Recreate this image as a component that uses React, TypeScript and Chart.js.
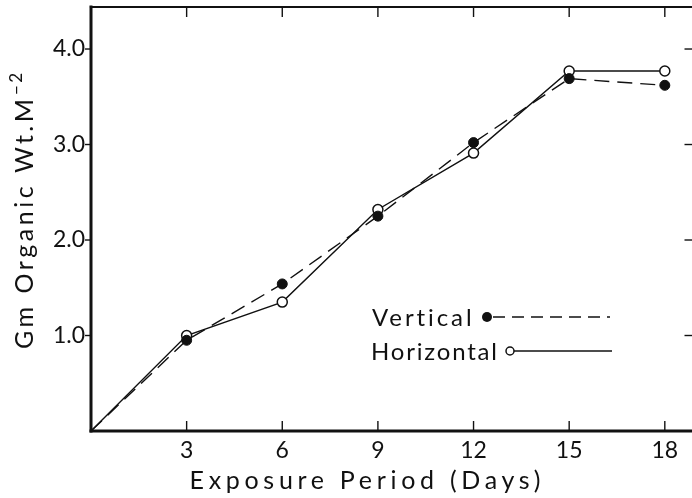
import React, { useEffect, useRef } from "react";
import { Chart, registerables } from "chart.js";

Chart.register(...registerables);

// ---- data ----
const days = [0, 3, 6, 9, 12, 15, 18];
const vertical = [0, 0.95, 1.54, 2.25, 3.02, 3.69, 3.62];
const horizontal = [0, 1.0, 1.35, 2.32, 2.91, 3.77, 3.77];
const xTickValues = [3, 6, 9, 12, 15, 18];
const yTickValues = [1, 2, 3, 4];
const yTickLabels = ["1.0", "2.0", "3.0", "4.0"];
const seriesNames = ["Vertical", "Horizontal"];
const xTitle = "Exposure Period (Days)";
const yTitleMain = "Gm Organic Wt.M";
const yTitleSup = "\u22122";

const FONT = "Lato, 'DejaVu Sans', sans-serif";
const INK = "#111";

function spacedText(ctx: CanvasRenderingContext2D, text: string, x: number, y: number, target: number, align: "left" | "center" | "right") {
  (ctx as any).letterSpacing = "0px";
  const w0 = ctx.measureText(text).width;
  const sp = text.length > 1 ? (target - w0) / (text.length - 1) : 0;
  (ctx as any).letterSpacing = sp + "px";
  const w = ctx.measureText(text).width - sp;
  let sx = x;
  if (align === "center") sx = x - w / 2;
  if (align === "right") sx = x - w;
  ctx.textAlign = "left";
  ctx.fillText(text, sx, y);
  (ctx as any).letterSpacing = "0px";
  return w;
}

const framePlugin = {
  id: "frame",
  afterDraw(chart: any) {
    const { ctx, chartArea: a, scales } = chart;
    const xs = scales.x;
    const ys = scales.y;
    const line = (x1: number, y1: number, x2: number, y2: number) => {
      ctx.beginPath();
      ctx.moveTo(x1, y1);
      ctx.lineTo(x2, y2);
      ctx.stroke();
    };
    ctx.save();
    ctx.strokeStyle = INK;
    ctx.lineCap = "square";
    ctx.lineWidth = 3;
    line(a.left, a.top, a.left, a.bottom);
    line(a.left, a.bottom, a.right, a.bottom);
    ctx.lineWidth = 2.2;
    line(a.left, a.top, a.right, a.top);
    line(a.right, a.top, a.right, a.bottom);
    ctx.lineCap = "butt";
    ctx.lineWidth = 1.4;
    xTickValues.forEach((v) => {
      const px = xs.getPixelForValue(v);
      line(px, a.bottom, px, a.bottom - 10);
      line(px, a.top, px, a.top + 10);
    });
    yTickValues.forEach((v) => {
      const py = ys.getPixelForValue(v);
      line(a.left - 6, py, a.left, py);
      line(a.right - 9, py, a.right, py);
    });

    // titles
    ctx.fillStyle = INK;
    ctx.font = `400 25px ${FONT}`;
    ctx.textBaseline = "alphabetic";
    spacedText(ctx, xTitle, 365, 489, 351, "center");

    ctx.save();
    ctx.translate(33, 207);
    ctx.rotate(-Math.PI / 2);
    ctx.font = `400 25px ${FONT}`;
    const mainW = 250;
    const startX = -142;
    spacedText(ctx, yTitleMain, startX, 0, mainW, "left");
    ctx.font = `400 17px ${FONT}`;
    spacedText(ctx, yTitleSup, startX + mainW + 4, -11, 22, "left");
    ctx.restore();

    // legend
    ctx.font = `400 24px ${FONT}`;
    spacedText(ctx, seriesNames[0], 372, 326, 100, "left");
    spacedText(ctx, seriesNames[1], 371, 360, 126, "left");
    ctx.lineWidth = 1.5;
    ctx.setLineDash([12, 7]);
    line(493, 317, 610, 317);
    ctx.setLineDash([]);
    line(514, 351, 612, 351);
    ctx.beginPath();
    ctx.arc(487, 317, 5, 0, Math.PI * 2);
    ctx.fillStyle = INK;
    ctx.fill();
    ctx.beginPath();
    ctx.arc(510, 351, 4, 0, Math.PI * 2);
    ctx.fillStyle = "#fff";
    ctx.fill();
    ctx.lineWidth = 1.5;
    ctx.stroke();
    ctx.restore();
  },
};

export default function App() {
  const ref = useRef<HTMLCanvasElement | null>(null);
  useEffect(() => {
    if (!ref.current) return;
    const radii = days.map((d) => (d === 0 ? 0 : 5));
    const chart = new Chart(ref.current, {
      type: "line",
      data: {
        datasets: [
          {
            label: seriesNames[0],
            data: days.map((d, i) => ({ x: d, y: vertical[i] })),
            borderColor: INK,
            borderWidth: 1.4,
            borderDash: [15, 8],
            pointRadius: radii,
            pointBackgroundColor: INK,
            pointBorderColor: INK,
            pointBorderWidth: 1,
            tension: 0,
          },
          {
            label: seriesNames[1],
            data: days.map((d, i) => ({ x: d, y: horizontal[i] })),
            borderColor: INK,
            borderWidth: 1.4,
            pointRadius: radii,
            pointBackgroundColor: "#fff",
            pointBorderColor: INK,
            pointBorderWidth: 1.5,
            tension: 0,
          },
        ],
      },
      options: {
        animation: false,
        responsive: false,
        devicePixelRatio: 1,
        layout: { padding: { top: 7, right: 6, left: 0, bottom: 0 } },
        plugins: { legend: { display: false }, tooltip: { enabled: false } },
        scales: {
          x: {
            type: "linear",
            min: 0,
            max: 18.9,
            grid: { display: false, drawTicks: false },
            border: { display: false },
            afterBuildTicks: (s: any) => {
              s.ticks = xTickValues.map((v) => ({ value: v }));
            },
            afterFit: (s: any) => {
              s.height = 67;
              s.paddingLeft = 0;
              s.paddingRight = 0;
            },
            ticks: {
              padding: 6,
              color: INK,
              font: { family: FONT, size: 23, weight: "400" as any },
              callback: (v: any) => String(v),
            },
          },
          y: {
            type: "linear",
            min: 0,
            max: 4.44,
            grid: { display: false, drawTicks: false },
            border: { display: false },
            afterBuildTicks: (s: any) => {
              s.ticks = yTickValues.map((v) => ({ value: v }));
            },
            afterFit: (s: any) => {
              s.width = 91;
              s.paddingTop = 0;
              s.paddingBottom = 0;
            },
            ticks: {
              padding: 6,
              color: INK,
              font: { family: FONT, size: 23, weight: "400" as any },
              callback: (v: any) => yTickLabels[yTickValues.indexOf(Number(v))] ?? "",
            },
          },
        },
      },
      plugins: [framePlugin],
    });
    return () => chart.destroy();
  }, []);
  return (
    <div style={{ position: "fixed", left: 0, top: 0, width: 692, height: 498, overflow: "hidden", background: "#fff" }}>
      <canvas ref={ref} width={700} height={498} style={{ display: "block" }} />
    </div>
  );
}
